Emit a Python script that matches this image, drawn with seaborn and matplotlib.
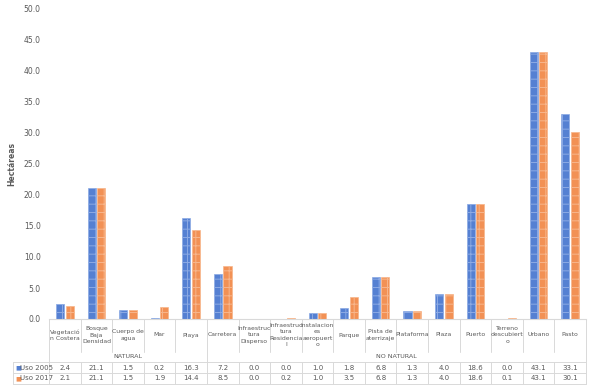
import numpy as np
import pandas as pd
import seaborn as sns
import matplotlib.pyplot as plt
import matplotlib.transforms as mtransforms

# datos
categorias = ["Vegetació\nn Costera", "Bosque\nBaja\nDensidad", "Cuerpo de\nagua", "Mar", "Playa",
              "Carretera", "Infraestruc\ntura\nDisperso", "Infraestruc\ntura\nResidencia\nl",
              "Instalacion\nes\naeropuert\no", "Parque", "Pista de\naterrizaje", "Plataforma",
              "Plaza", "Puerto", "Terreno\ndescubiert\no", "Urbano", "Pasto"]
uso_2005 = [2.4, 21.1, 1.5, 0.2, 16.3, 7.2, 0.0, 0.0, 1.0, 1.8, 6.8, 1.3, 4.0, 18.6, 0.0, 43.1, 33.1]
uso_2017 = [2.1, 21.1, 1.5, 1.9, 14.4, 8.5, 0.0, 0.2, 1.0, 3.5, 6.8, 1.3, 4.0, 18.6, 0.1, 43.1, 30.1]
grupos = ["NATURAL", "NO NATURAL"]
n_natural = 5
series = ["Uso 2005", "Uso 2017"]
y_ticks = [0, 5, 10, 15, 20, 25, 30, 35, 40, 45, 50]

df = pd.DataFrame({
    "categoria": categorias * 2,
    "serie": [series[0]] * len(categorias) + [series[1]] * len(categorias),
    "valor": uso_2005 + uso_2017,
})

colores = {"Uso 2005": "#5580D2", "Uso 2017": "#F29155"}
claros = {"Uso 2005": "#8CAAE4", "Uso 2017": "#F7B68C"}
gris = "#595959"
linea = "#D9D9D9"

sns.set_theme(style="white")
plt.rcParams["font.family"] = ["DejaVu Sans"]
plt.rcParams["hatch.linewidth"] = 0.7

W, H = 594, 388
fig = plt.figure(figsize=(W / 100, H / 100), dpi=100)
ax = fig.add_axes([49 / W, 1 - 319 / H, 537 / W, 310 / H])

sns.barplot(data=df, x="categoria", y="valor", hue="serie", palette=colores,
            width=0.6, gap=0.15, ax=ax, legend=False, saturation=1)

for cont, s in zip(ax.containers, series):
    for bar in cont:
        bar.set_edgecolor(claros[s])
        bar.set_linewidth(0.5)
        bar.set_hatch("++")

ax.set_ylim(0, 50)
ax.set_xlim(-0.5, len(categorias) - 0.5)
ax.set_yticks(y_ticks)
ax.set_yticklabels([f"{v:.1f}" for v in y_ticks], fontsize=5.5, color=gris)
ax.tick_params(axis="y", length=0, pad=6)
ax.set_xticks([])
ax.set_xlabel("")
ax.set_ylabel("Hectáreas", fontsize=5.5, fontweight="bold", color=gris, labelpad=5)
for sp in ["top", "right", "left"]:
    ax.spines[sp].set_visible(False)
ax.spines["bottom"].set_color(linea)
ax.spines["bottom"].set_linewidth(0.8)

# tabla de datos debajo del grafico
tr = mtransforms.blended_transform_factory(ax.transData, fig.transFigure)
def fy(px):
    return 1 - px / H

n = len(categorias)
x0, x1 = -0.5, n - 0.5
kw = dict(color=linea, lw=0.7, transform=tr, clip_on=False)

# lineas verticales
for i in range(n + 1):
    xb = i - 0.5
    if i in (0, n_natural, n):
        ax.plot([xb, xb], [fy(319), fy(384)], **kw)
    else:
        ax.plot([xb, xb], [fy(319), fy(352)], **kw)
        ax.plot([xb, xb], [fy(362), fy(384)], **kw)

# columna de leyenda
xl = ax.transData.inverted().transform(fig.transFigure.transform((13 / W, 0)))[0]
for yy in (362, 373, 384):
    ax.plot([xl, x1], [fy(yy), fy(yy)], **kw)
ax.plot([xl, xl], [fy(362), fy(384)], **kw)

for i, c in enumerate(categorias):
    ax.text(i, fy(335), c, transform=tr, ha="center", va="center", fontsize=4.4,
            color=gris, linespacing=1.3)

ax.text((n_natural - 1) / 2, fy(357), grupos[0], transform=tr, ha="center", va="center",
        fontsize=4.6, color=gris)
ax.text((n_natural + n - 1) / 2, fy(357), grupos[1], transform=tr, ha="center", va="center",
        fontsize=4.6, color=gris)

for yy, s, vals in ((367.5, series[0], uso_2005), (378.5, series[1], uso_2017)):
    for i, v in enumerate(vals):
        ax.text(i, fy(yy), f"{v:.1f}", transform=tr, ha="center", va="center",
                fontsize=5, color=gris)
    fig.text(15 / W, fy(yy), "\u25A0", color=colores[s], fontsize=4.5, va="center", ha="left")
    fig.text(20 / W, fy(yy), s, color=gris, fontsize=5, va="center", ha="left")

fig.savefig("out.png", dpi=100)
